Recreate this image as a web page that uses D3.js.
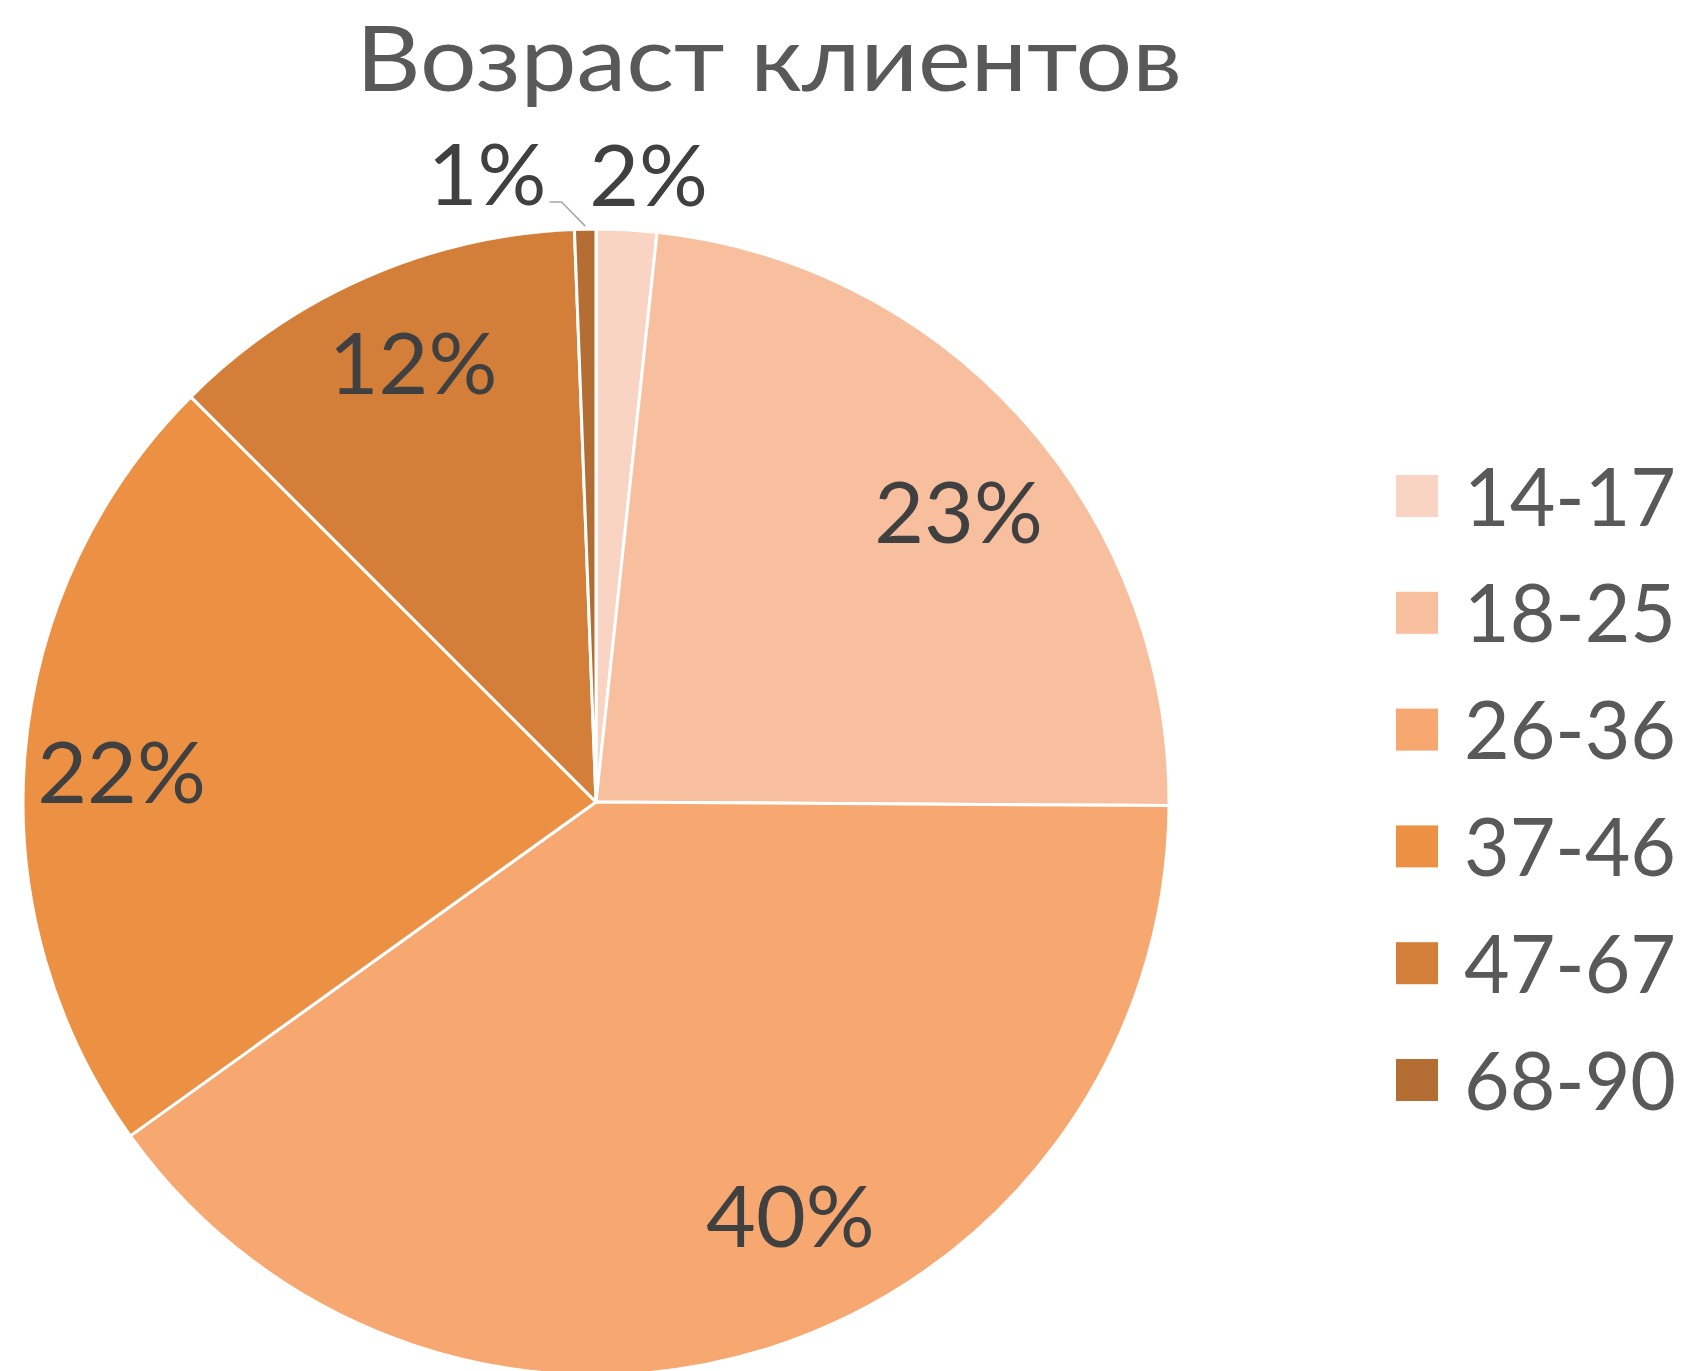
<!DOCTYPE html>
<html>
<head>
<meta charset="utf-8">
<script src="https://cdn.jsdelivr.net/npm/d3@7"></script>
<style>
  html, body { margin: 0; padding: 0; background: #ffffff; }
  svg { display: block; }
</style>
</head>
<body>
<svg id="chart" width="1690" height="1371"></svg>
<script>
// ---- data ----
const title = "Возраст клиентов";
const categories = ["14-17", "18-25", "26-36", "37-46", "47-67", "68-90"];
const shares = [1.7, 23.4, 40.0, 22.4, 11.9, 0.6];
const colors = ["#F9D4C2", "#F8BF9F", "#F7A770", "#EC9044", "#D37F3A", "#B46E33"];

// ---- layout ----
const W = 1690, H = 1371;
const cx = 596, cy = 802, R = 573;
const FONT = "Lato, 'Open Sans', sans-serif";
const labelSize = 86, legendSize = 82, titleSize = 92;
// label placement: radius and small nudges (px) per slice
const labelRadius = [630, 470, 470, 470, 470, 630];
const labelNudge = [[19, 2], [12, 23], [52, -34], [-6, 8], [5, -8], [-97, 2]];

const svg = d3.select("#chart");
const total = d3.sum(shares);
const pct = d3.format(".0%");

const pie = d3.pie().sort(null).value(d => d)(shares);
const arc = d3.arc().innerRadius(0).outerRadius(R);

const g = svg.append("g").attr("transform", `translate(${cx},${cy})`);
g.selectAll("path.slice")
  .data(pie)
  .join("path")
  .attr("class", "slice")
  .attr("d", arc)
  .attr("fill", (d, i) => colors[i])
  .attr("stroke", "#ffffff")
  .attr("stroke-width", 3)
  .attr("stroke-linejoin", "round");

// data labels
const capH = labelSize * 0.72;
const labels = g.selectAll("text.lbl")
  .data(pie)
  .join("text")
  .attr("class", "lbl")
  .attr("text-anchor", "middle")
  .attr("font-family", FONT)
  .attr("font-size", labelSize)
  .attr("fill", "#404040")
  .attr("x", (d, i) => d3.arc().innerRadius(labelRadius[i]).outerRadius(labelRadius[i]).centroid(d)[0] + labelNudge[i][0])
  .attr("y", (d, i) => d3.arc().innerRadius(labelRadius[i]).outerRadius(labelRadius[i]).centroid(d)[1] + labelNudge[i][1] + capH / 2)
  .text(d => pct(d.value / total));

// leader line for the smallest slice (68-90)
{
  const i = 5, d = pie[i];
  const node = labels.nodes()[i];
  const bb = node.getBBox();
  const x0 = bb.x + bb.width + 3;
  const y0 = +d3.select(node).attr("y") - 3;
  const edge = d3.arc().innerRadius(R).outerRadius(R).centroid(d);
  g.append("polyline")
    .attr("points", [[x0, y0], [x0 + 12, y0], [edge[0], edge[1] - 3]].map(p => p.join(",")).join(" "))
    .attr("fill", "none")
    .attr("stroke", "#A6A6A6")
    .attr("stroke-width", 1.5);
}

// title
svg.append("text")
  .attr("x", 769)
  .attr("y", 91)
  .attr("text-anchor", "middle")
  .attr("font-family", FONT)
  .attr("font-size", titleSize)
  .attr("fill", "#595959")
  .attr("textLength", 826)
  .attr("lengthAdjust", "spacingAndGlyphs")
  .text(title);

// legend
const legY = d3.scalePoint().domain(categories).range([496, 1080]);
const leg = svg.append("g").selectAll("g")
  .data(categories)
  .join("g")
  .attr("transform", d => `translate(1396,${legY(d)})`);
leg.append("rect")
  .attr("x", 0).attr("y", -21)
  .attr("width", 42).attr("height", 42)
  .attr("fill", (d, i) => colors[i]);
leg.append("text")
  .attr("x", 68)
  .attr("y", legendSize * 0.72 / 2)
  .attr("font-family", FONT)
  .attr("font-size", legendSize)
  .attr("fill", "#595959")
  .attr("textLength", 212)
  .attr("lengthAdjust", "spacingAndGlyphs")
  .text(d => d);
</script>
</body>
</html>
